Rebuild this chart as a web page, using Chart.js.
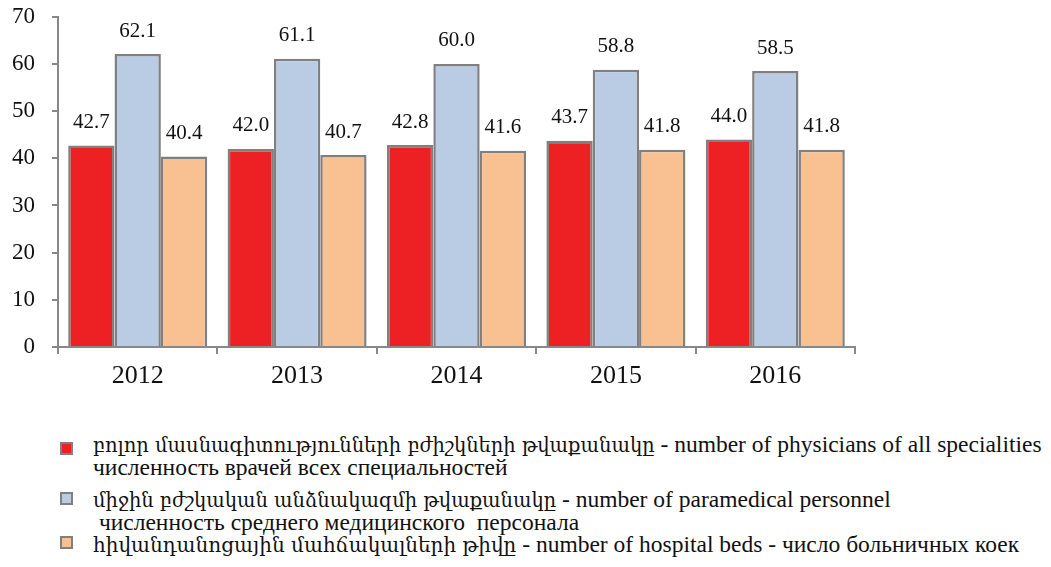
<!DOCTYPE html>
<html>
<head>
<meta charset="utf-8">
<script src="https://cdn.jsdelivr.net/npm/chart.js@4.4.1/dist/chart.umd.min.js"></script>
<style>
    body { margin: 0; background: #fff; width: 1051px; height: 567px; overflow: hidden; position: relative; }
    /* shifted up: chart.js keeps ~25px above the plot for the top y label */
    #wrap { position: absolute; left: 0; top: -14px; width: 1051px; height: 414px; }
    .sw { position: absolute; width: 9px; height: 9px; border: 2px solid #808080; }
    .lg { position: absolute; left: 93px; font-family: "Liberation Serif", serif; font-size: 23.5px; color: #111; white-space: pre; line-height: 24px; }
    .hy { font-family: "DejaVu Serif", serif; }
</style>
</head>
<body>
<div id="wrap"><canvas id="chart" width="1051" height="414"></canvas></div>
<div id="legend"></div>
<script>
const years = ['2012', '2013', '2014', '2015', '2016'];
const physicians = [42.7, 42.0, 42.8, 43.7, 44.0];
const paramedical = [62.1, 61.1, 60.0, 58.8, 58.5];
const beds = [40.4, 40.7, 41.6, 41.8, 41.8];

// each legend line: [armenian part, rest]
const legendLines = [
    [['բոլոր մասնագիտությունների բժիշկների թվաքանակը', ' - number of physicians of all specialities'], ['', 'численность врачей всех специальностей']],
    [['միջին բժշկական անձնակազմի թվաքանակը', ' - number of paramedical personnel'], ['', ' численность среднего медицинского  персонала']],
    [['հիվանդանոցային մահճակալների թիվը', ' - number of hospital beds - число больничных коек']]
];
const armSizes = [19.5, 19.5, 20];
const colors = ['#ED2024', '#B9CCE4', '#F9C192'];

// legend below the chart
const legend = document.getElementById('legend');
const swatchTops = [442, 492, 536];
const lineTops = [432, 455, 487, 510, 532];
let li = 0;
legendLines.forEach(function (lines, i) {
    const sw = document.createElement('div');
    sw.className = 'sw';
    sw.style.left = '60px';
    sw.style.top = swatchTops[i] + 'px';
    sw.style.background = colors[i];
    legend.appendChild(sw);
    lines.forEach(function (parts) {
        const d = document.createElement('div');
        d.className = 'lg';
        d.style.top = lineTops[li++] + 'px';
        if (parts[0]) {
            const s = document.createElement('span');
            s.className = 'hy';
            s.style.fontSize = armSizes[i] + 'px';
            s.textContent = parts[0];
            d.appendChild(s);
        }
        d.appendChild(document.createTextNode(parts[1]));
        legend.appendChild(d);
    });
});

const valueLabels = {
    id: 'valueLabels',
    afterDatasetsDraw(chart) {
        const ctx = chart.ctx;
        ctx.save();
        ctx.font = '21px "Liberation Serif", serif';
        ctx.fillStyle = '#111';
        ctx.textAlign = 'center';
        ctx.textBaseline = 'middle';
        chart.data.datasets.forEach(function (ds, i) {
            chart.getDatasetMeta(i).data.forEach(function (bar, j) {
                ctx.fillText(ds.data[j].toFixed(1), bar.x, bar.y - 23);
            });
        });
        ctx.restore();
    }
};

const ctx = document.getElementById('chart').getContext('2d');
const chart = new Chart(ctx, {
    type: 'bar',
    data: {
        labels: years,
        datasets: [
            { label: 'physicians', data: physicians, backgroundColor: colors[0] },
            { label: 'paramedical', data: paramedical, backgroundColor: colors[1] },
            { label: 'beds', data: beds, backgroundColor: colors[2] }
        ]
    },
    options: {
        responsive: false,
        animation: false,
        maintainAspectRatio: false,
        layout: { padding: { left: 0, right: 196, top: 6, bottom: 0 } },
        datasets: {
            bar: {
                borderColor: '#808080',
                borderWidth: 2.5,
                categoryPercentage: 0.872,
                barPercentage: 1
            }
        },
        plugins: {
            legend: { display: false },
            tooltip: { enabled: false }
        },
        scales: {
            x: {
                grid: { offset: true, drawOnChartArea: false, color: '#888', lineWidth: 2, tickLength: 7 },
                border: { display: true, color: '#888', width: 2 },
                ticks: { color: '#111', font: { family: '"Liberation Serif", serif', size: 26 }, padding: 7 },
                afterFit: function (scale) { scale.height = 53; }
            },
            y: {
                min: 0,
                max: 70,
                ticks: { stepSize: 10, color: '#111', font: { family: '"Liberation Serif", serif', size: 23 }, padding: 17 },
                grid: { drawOnChartArea: false, color: '#888', lineWidth: 2, tickLength: 6 },
                border: { display: true, color: '#888', width: 2 },
                afterFit: function (scale) { scale.width = 58; }
            }
        }
    },
    plugins: [valueLabels]
});
</script>
</body>
</html>
